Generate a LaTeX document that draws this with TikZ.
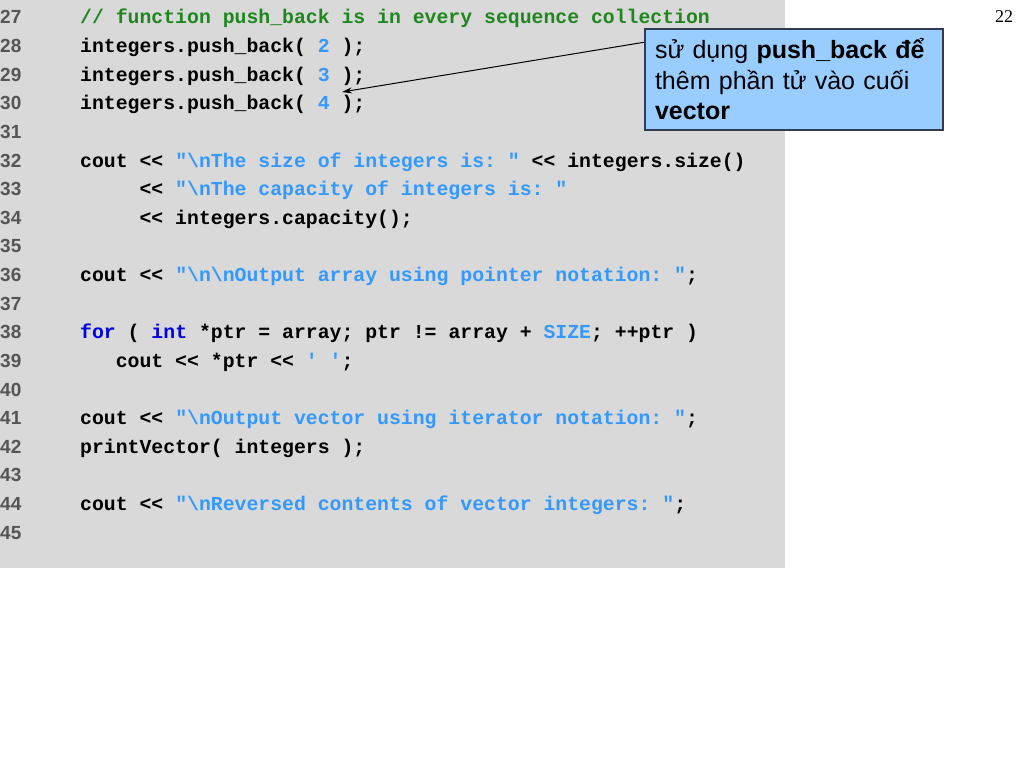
\documentclass[tikz,border=0pt]{standalone}
\usepackage{fontspec}
\setmainfont{Liberation Sans}
\setmonofont{Liberation Mono}
\newfontfamily\pagefont{Liberation Serif}
\usetikzlibrary{arrows.meta}

\definecolor{codebg}{RGB}{217,217,217}
\definecolor{numgray}{RGB}{85,85,85}
\definecolor{cmtgreen}{RGB}{30,135,30}
\definecolor{kwblue}{RGB}{0,0,230}
\definecolor{litblue}{RGB}{51,153,255}
\definecolor{notefill}{RGB}{153,204,255}
\definecolor{noteline}{RGB}{50,60,80}

\newcommand{\kw}[1]{\textcolor{kwblue}{#1}}
\newcommand{\lit}[1]{\textcolor{litblue}{#1}}
\newcommand{\bsl}{\textbackslash}

\tikzset{
    lnum/.style={anchor=base west, inner sep=0pt, text=numgray,
        font=\fontsize{19}{19}\selectfont\bfseries},
    code/.style={anchor=base west, inner sep=0pt,
        font=\fontsize{19.8}{20}\selectfont\ttfamily\bfseries},
    note/.style={draw=noteline, fill=notefill, line width=1.2pt,
        text width=278pt, inner xsep=10pt, inner ysep=0pt,
        minimum height=101pt, align=left,
        font=\fontsize{25}{30.5}\selectfont},
}

\begin{document}
\begin{tikzpicture}[x=1pt, y=-1pt]
    %--------------------%
    % Parameters
    %--------------------%
    \def\ytop{24}
    \def\ysep{28.62}
    \def\xnum{0}
    \def\xcode{80}
    \def\cw{11.88}

    \useasboundingbox (0,0) rectangle (1024,768);
    \fill[codebg] (0,0) rectangle (785,568);

    %--------------------%
    % Line numbers
    %--------------------%
    \node[lnum] (n27) at (\xnum,\ytop+0*\ysep) {27};
    \node[lnum] (n28) at (\xnum,\ytop+1*\ysep) {28};
    \node[lnum] (n29) at (\xnum,\ytop+2*\ysep) {29};
    \node[lnum] (n30) at (\xnum,\ytop+3*\ysep) {30};
    \node[lnum] (n31) at (\xnum,\ytop+4*\ysep) {31};
    \node[lnum] (n32) at (\xnum,\ytop+5*\ysep) {32};
    \node[lnum] (n33) at (\xnum,\ytop+6*\ysep) {33};
    \node[lnum] (n34) at (\xnum,\ytop+7*\ysep) {34};
    \node[lnum] (n35) at (\xnum,\ytop+8*\ysep) {35};
    \node[lnum] (n36) at (\xnum,\ytop+9*\ysep) {36};
    \node[lnum] (n37) at (\xnum,\ytop+10*\ysep) {37};
    \node[lnum] (n38) at (\xnum,\ytop+11*\ysep) {38};
    \node[lnum] (n39) at (\xnum,\ytop+12*\ysep) {39};
    \node[lnum] (n40) at (\xnum,\ytop+13*\ysep) {40};
    \node[lnum] (n41) at (\xnum,\ytop+14*\ysep) {41};
    \node[lnum] (n42) at (\xnum,\ytop+15*\ysep) {42};
    \node[lnum] (n43) at (\xnum,\ytop+16*\ysep) {43};
    \node[lnum] (n44) at (\xnum,\ytop+17*\ysep) {44};
    \node[lnum] (n45) at (\xnum,\ytop+18*\ysep) {45};

    %--------------------%
    % Code lines
    %--------------------%
    \node[code, text=cmtgreen] (l27) at (\xcode,\ytop+0*\ysep) {// function push\_back is in every sequence collection};
    \node[code] (l28) at (\xcode,\ytop+1*\ysep) {integers.push\_back( \lit{2} );};
    \node[code] (l29) at (\xcode,\ytop+2*\ysep) {integers.push\_back( \lit{3} );};
    \node[code] (l30) at (\xcode,\ytop+3*\ysep) {integers.push\_back( \lit{4} );};
    \node[code] (l32) at (\xcode,\ytop+5*\ysep) {cout << \lit{"\bsl nThe size of integers is: "} << integers.size()};
    \node[code] (l33) at (\xcode+5*\cw,\ytop+6*\ysep) {<< \lit{"\bsl nThe capacity of integers is: "}};
    \node[code] (l34) at (\xcode+5*\cw,\ytop+7*\ysep) {<< integers.capacity();};
    \node[code] (l36) at (\xcode,\ytop+9*\ysep) {cout << \lit{"\bsl n\bsl nOutput array using pointer notation: "};};
    \node[code] (l38) at (\xcode,\ytop+11*\ysep) {\kw{for} ( \kw{int} *ptr = array; ptr != array + \lit{SIZE}; ++ptr )};
    \node[code] (l39) at (\xcode+3*\cw,\ytop+12*\ysep) {cout << *ptr << \lit{' '};};
    \node[code] (l41) at (\xcode,\ytop+14*\ysep) {cout << \lit{"\bsl nOutput vector using iterator notation: "};};
    \node[code] (l42) at (\xcode,\ytop+15*\ysep) {printVector( integers );};
    \node[code] (l44) at (\xcode,\ytop+17*\ysep) {cout << \lit{"\bsl nReversed contents of vector integers: "};};

    %--------------------%
    % Callout
    %--------------------%
    \node[note] (callout) at (794,79.5) {s\char"1EED{} d\char"1EE5ng \textbf{push\_back \char"0111\char"1EC3}\\th\^em ph\char"1EA7n t\char"1EED{} v\`ao cu\char"1ED1i\\\textbf{vector}};
    \coordinate (tip) at (342,92);
    \draw[-{Stealth[length=10pt,width=6pt]}, line width=1pt] (callout.166) -- (tip);

    %--------------------%
    % Page number
    %--------------------%
    \node[font=\fontsize{18}{18}\selectfont\pagefont] (page) at (1004,17) {22};

\end{tikzpicture}
\end{document}
